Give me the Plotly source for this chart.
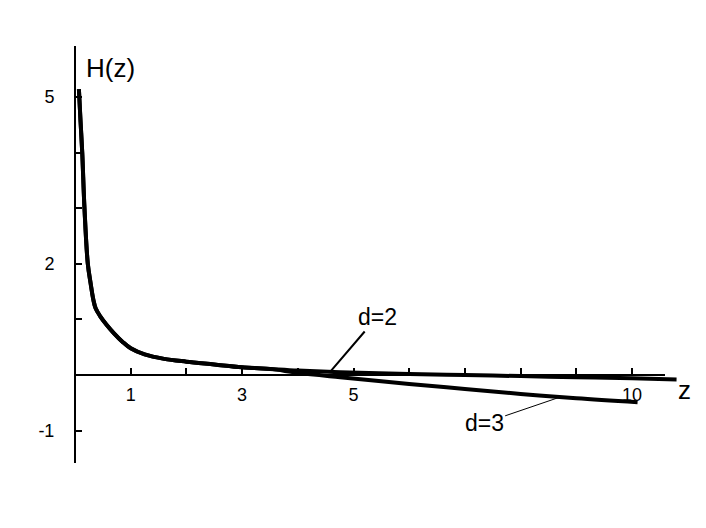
import numpy as np
import plotly.graph_objects as go

# ---- data ----
z_common = [0.07, 0.10, 0.13, 0.17, 0.23, 0.28, 0.33, 0.37, 0.45, 0.57, 0.70, 0.85, 1.0, 1.25, 1.6, 2.0, 2.5, 3.0, 3.5]
H_common = [5.14, 4.55, 4.0, 3.0, 2.0, 1.65, 1.35, 1.2, 1.06, 0.9, 0.75, 0.6, 0.48, 0.37, 0.29, 0.24, 0.19, 0.14, 0.11]

z_d2_tail = [4.0, 4.76, 6.0, 7.0, 8.0, 9.0, 10.0, 10.8]
H_d2_tail = [0.08, 0.05, 0.02, 0.0, -0.02, -0.04, -0.06, -0.08]

z_d3_tail = [4.0, 4.76, 6.0, 7.0, 8.0, 9.0, 10.1]
H_d3_tail = [0.04, -0.04, -0.16, -0.25, -0.34, -0.42, -0.49]

x_tick_vals = [1, 2, 3, 4, 5, 6, 7, 8, 9, 10]
x_tick_text = ["1", "", "3", "", "5", "", "", "", "", "10"]
y_tick_vals = [-1, 1, 2, 3, 4, 5]
y_tick_text = ["-1", "", "2", "", "", "5"]

z_d2 = z_common + z_d2_tail
H_d2 = H_common + H_d2_tail
z_d3 = z_common + z_d3_tail
H_d3 = H_common + H_d3_tail

# ---- geometry (page has an 8px body margin) ----
OFF = 8
W, Hpx = 690, 512
x0px, y0px = 75 - OFF, 375 - OFF       # pixel of origin inside the figure
sx, sy = 55.7, 55.6                     # pixels per unit
ax_left, ax_right = 74 - OFF, 665 - OFF # x axis extent
ay_top, ay_bottom = 46 - OFF, 463 - OFF # y axis extent

FONT = "Liberation Sans, Arial, sans-serif"

fig = go.Figure()
line_style = dict(color="black", width=4)
fig.add_trace(go.Scatter(x=z_d2, y=H_d2, mode="lines", line=line_style,
                         showlegend=False, hoverinfo="skip", line_shape="spline"))
fig.add_trace(go.Scatter(x=z_d3, y=H_d3, mode="lines", line=line_style,
                         showlegend=False, hoverinfo="skip", line_shape="spline"))
# carrier trace for the visible axes
fig.add_trace(go.Scatter(x=[], y=[], xaxis="x2", yaxis="y2", showlegend=False))

fig.update_layout(
    width=W, height=Hpx,
    margin=dict(l=0, r=0, t=0, b=0),
    paper_bgcolor="white", plot_bgcolor="rgba(0,0,0,0)",
    font=dict(family=FONT, color="black", size=18),
    xaxis=dict(range=[-x0px / sx, (W - x0px) / sx], visible=False, fixedrange=True),
    yaxis=dict(range=[-(Hpx - y0px) / sy, y0px / sy], visible=False, fixedrange=True),
    xaxis2=dict(
        domain=[ax_left / W, ax_right / W],
        range=[(ax_left - x0px) / sx, (ax_right - x0px) / sx],
        anchor="free", position=(Hpx - y0px) / Hpx,
        showline=True, linecolor="black", linewidth=2,
        ticks="inside", ticklen=6, tickwidth=1.5, tickcolor="black",
        tickvals=x_tick_vals, ticktext=x_tick_text,
        ticklabelstandoff=3, automargin=False,
        showgrid=False, zeroline=False, fixedrange=True,
        tickfont=dict(size=18, family=FONT),
    ),
    yaxis2=dict(
        domain=[(Hpx - ay_bottom) / Hpx, (Hpx - ay_top) / Hpx],
        range=[-(ay_bottom - y0px) / sy, (y0px - ay_top) / sy],
        anchor="free", position=x0px / W,
        showline=True, linecolor="black", linewidth=2,
        ticks="inside", ticklen=6, tickwidth=1.5, tickcolor="black",
        tickvals=y_tick_vals, ticktext=y_tick_text,
        ticklabelstandoff=16, automargin=False,
        showgrid=False, zeroline=False, fixedrange=True,
        tickfont=dict(size=18, family=FONT),
    ),
)

# axis titles
fig.add_annotation(text="H(z)", xref="paper", yref="paper", x=(84 - OFF) / W, y=1 - (68 - OFF) / Hpx,
                   xanchor="left", yanchor="middle", showarrow=False,
                   font=dict(size=26, family=FONT))
fig.add_annotation(text="z", xref="paper", yref="paper", x=(676 - OFF) / W, y=1 - (390 - OFF) / Hpx,
                   xanchor="left", yanchor="middle", showarrow=False,
                   font=dict(size=26, family=FONT))

# curve labels with leader lines
z2_t = 4.58
h2_t = float(np.interp(z2_t, z_d2, H_d2))
fig.add_annotation(text="d=2", x=z2_t, y=h2_t, xref="x", yref="y",
                   ax=47, ay=(317 - OFF) - (y0px - h2_t * sy),
                   showarrow=True, arrowhead=0, arrowwidth=2, arrowcolor="black",
                   font=dict(size=23, family=FONT))
z3_t = 8.71
h3_t = float(np.interp(z3_t, z_d3, H_d3))
fig.add_annotation(text="d=3", x=z3_t, y=h3_t, xref="x", yref="y",
                   ax=-76, ay=(423 - OFF) - (y0px - h3_t * sy),
                   showarrow=True, arrowhead=0, arrowwidth=1, arrowcolor="black",
                   font=dict(size=23, family=FONT))

fig.write_html("out.html")
